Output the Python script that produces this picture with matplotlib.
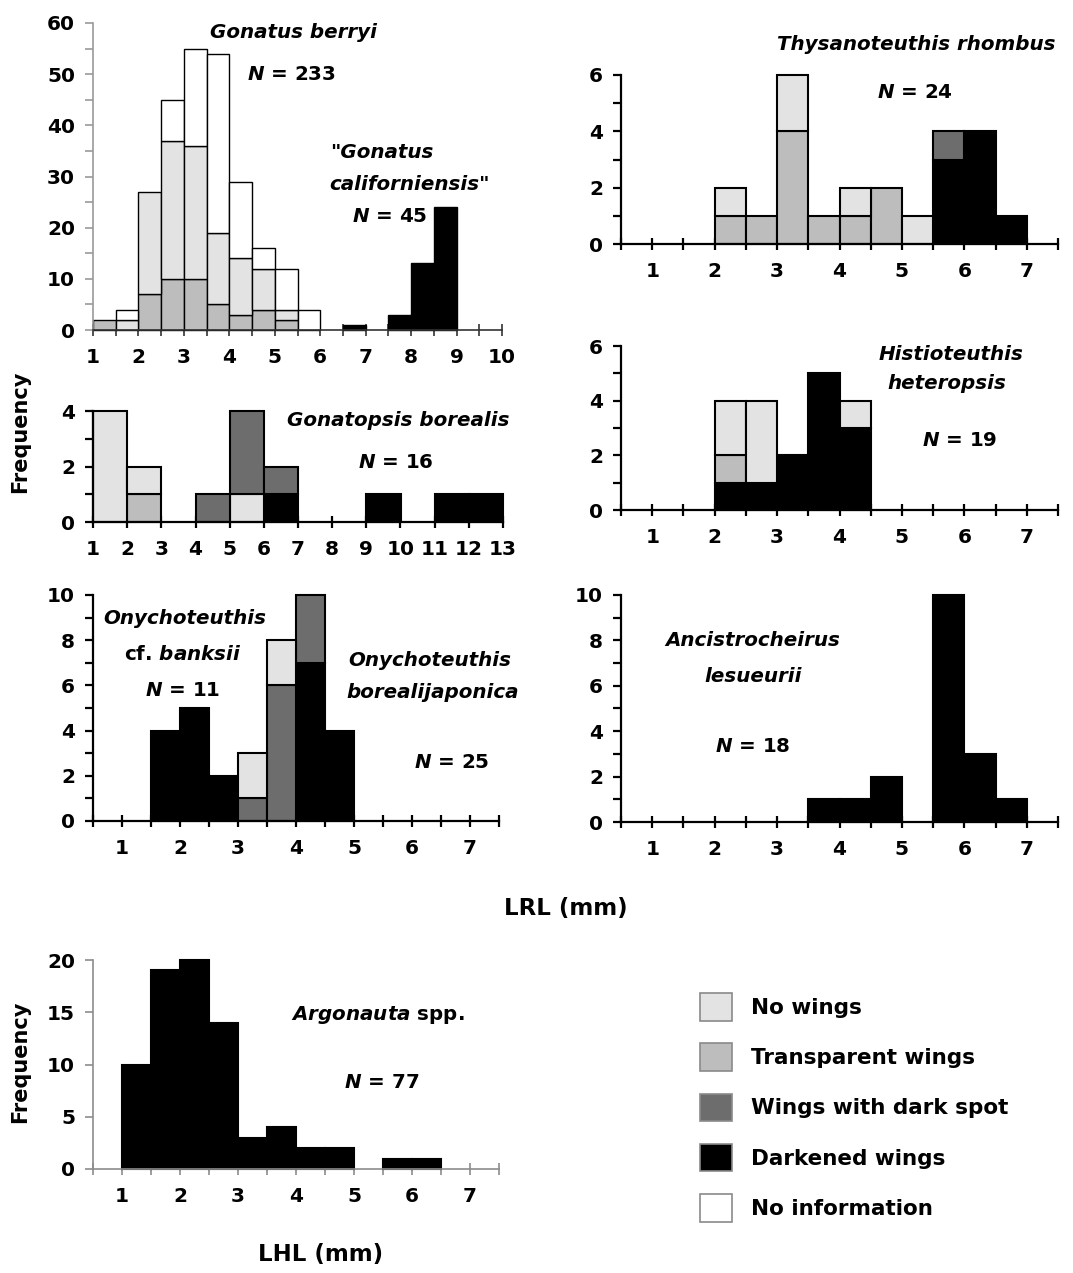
import numpy as np
import matplotlib
matplotlib.use('Agg')
import matplotlib.pyplot as plt
from matplotlib.ticker import MultipleLocator
from matplotlib.patches import Patch

plt.rcParams['font.family'] = ['DejaVu Sans']
plt.rcParams['font.weight'] = 'bold'
plt.rcParams['mathtext.fontset'] = 'custom'
plt.rcParams['mathtext.it'] = 'DejaVu Sans:italic:bold'
plt.rcParams['mathtext.rm'] = 'DejaVu Sans:bold'

# wing categories (legend order)
categories = ['No wings', 'Transparent wings', 'Wings with dark spot', 'Darkened wings', 'No information']
colours = ['#e3e3e3', '#bdbdbd', '#6d6d6d', '#000000', '#ffffff']
col = dict(zip(categories, colours))

# Gonatus berryi, LRL bins of 0.5 mm
berryi_bins = [1.0, 1.5, 2.0, 2.5, 3.0, 3.5, 4.0, 4.5, 5.0, 5.5]
berryi_trans = [2, 0, 7, 10, 10, 5, 3, 4, 2, 0]
berryi_nowings = [0, 2, 20, 27, 26, 14, 11, 8, 2, 0]
berryi_noinfo = [0, 2, 0, 8, 19, 35, 15, 4, 8, 4]
# "Gonatus californiensis"
calif_bins = [6.5, 7.5, 8.0, 8.5]
calif_dark = [1, 3, 13, 24]

# Thysanoteuthis rhombus
thys_bins = [2.0, 2.5, 3.0, 3.5, 4.0, 4.5, 5.0, 5.5, 6.0, 6.5]
thys_dark = [0, 0, 0, 0, 0, 0, 0, 3, 4, 1]
thys_spot = [0, 0, 0, 0, 0, 0, 0, 1, 0, 0]
thys_trans = [1, 1, 4, 1, 1, 2, 0, 0, 0, 0]
thys_nowings = [1, 0, 2, 0, 1, 0, 1, 0, 0, 0]

# Gonatopsis borealis, bins of 1 mm
gona_bins = [1, 2, 3, 4, 5, 6, 7, 8, 9, 10, 11, 12]
gona_dark = [0, 0, 0, 0, 0, 1, 0, 0, 1, 0, 1, 1]
gona_trans = [0, 1, 0, 0, 0, 0, 0, 0, 0, 0, 0, 0]
gona_nowings = [4, 1, 0, 0, 1, 0, 0, 0, 0, 0, 0, 0]
gona_spot = [0, 0, 0, 1, 3, 1, 0, 0, 0, 0, 0, 0]

# Histioteuthis heteropsis
hist_bins = [2.0, 2.5, 3.0, 3.5, 4.0]
hist_dark = [1, 1, 2, 5, 3]
hist_trans = [1, 0, 0, 0, 0]
hist_nowings = [2, 3, 0, 0, 1]

# Onychoteuthis cf. banksii / borealijaponica
banksii_bins = [1.5, 2.0, 2.5]
banksii_dark = [4, 5, 2]
borjap_bins = [3.0, 3.5, 4.0, 4.5]
borjap_dark = [0, 0, 7, 4]
borjap_spot = [1, 6, 3, 0]
borjap_nowings = [2, 2, 0, 0]

# Ancistrocheirus lesueurii
anc_bins = [3.5, 4.0, 4.5, 5.0, 5.5, 6.0, 6.5]
anc_dark = [1, 1, 2, 0, 10, 3, 1]

# Argonauta spp., LHL
arg_bins = [1.0, 1.5, 2.0, 2.5, 3.0, 3.5, 4.0, 4.5, 5.0, 5.5, 6.0]
arg_dark = [10, 19, 20, 14, 3, 4, 2, 2, 0, 1, 1]

W, H = 1073, 1273
fig = plt.figure(figsize=(W / 100, H / 100), dpi=100)


def px_axes(left, right, top, bottom):
    return fig.add_axes([left / W, 1 - bottom / H, (right - left) / W, (bottom - top) / H])


def stack(ax, bins, layers, width=0.5, lw=1.5):
    bins = np.array(bins, float)
    bottom = np.zeros(len(bins))
    for cat, vals in layers:
        vals = np.array(vals, float)
        m = vals > 0
        ax.bar(bins[m], vals[m], width=width, bottom=bottom[m], align='edge',
               color=col[cat], edgecolor='black', linewidth=lw, clip_on=False, zorder=2)
        bottom += vals


def setup(ax, xlim, ylim, ymajor, yminor, xmajor=1, xminor=0.5, spine='black', lw=1.6):
    ax.set_xlim(xlim)
    ax.set_ylim(ylim)
    for s in ['top', 'right']:
        ax.spines[s].set_visible(False)
    for s in ['left', 'bottom']:
        ax.spines[s].set_color(spine)
        ax.spines[s].set_linewidth(lw)
    ax.xaxis.set_major_locator(MultipleLocator(xmajor))
    ax.xaxis.set_minor_locator(MultipleLocator(xminor))
    ax.yaxis.set_major_locator(MultipleLocator(ymajor))
    ax.yaxis.set_minor_locator(MultipleLocator(yminor))
    ax.tick_params(axis='x', which='both', direction='inout', length=8, width=lw,
                   color=spine, labelsize=14.5, pad=9)
    ax.tick_params(axis='y', which='both', direction='out', length=6, width=lw,
                   color=spine, labelsize=14.5, pad=7)
    ax.set_xticks([t for t in ax.get_xticks() if xlim[0] <= t <= xlim[1] and t >= 1])
    ax.patch.set_alpha(0)


# panel 1: Gonatus berryi + californiensis
ax1 = px_axes(93, 502, 23, 330)
stack(ax1, berryi_bins, [('Transparent wings', berryi_trans), ('No wings', berryi_nowings),
                         ('No information', berryi_noinfo)], lw=1.0)
stack(ax1, calif_bins, [('Darkened wings', calif_dark)], lw=1.0)
setup(ax1, (1, 10), (0, 60), 10, 5, spine='#9a9a9a', lw=1.2)
ax1.spines['bottom'].set_color('#333333')
ax1.tick_params(axis='x', which='both', color='#333333')

# panel 2: Thysanoteuthis rhombus
ax2 = px_axes(621, 1058, 75, 244)
stack(ax2, thys_bins, [('Darkened wings', thys_dark), ('Wings with dark spot', thys_spot),
                       ('Transparent wings', thys_trans), ('No wings', thys_nowings)])
setup(ax2, (0.5, 7.5), (0, 6), 2, 1)

# panel 3: Gonatopsis borealis
ax3 = px_axes(93, 503, 411, 522)
stack(ax3, gona_bins, [('Darkened wings', gona_dark), ('Transparent wings', gona_trans),
                       ('No wings', gona_nowings), ('Wings with dark spot', gona_spot)], width=1.0)
setup(ax3, (1, 13), (0, 4), 2, 1, xmajor=1, xminor=1)

# panel 4: Histioteuthis heteropsis
ax4 = px_axes(621, 1058, 346, 510)
stack(ax4, hist_bins, [('Darkened wings', hist_dark), ('Transparent wings', hist_trans),
                       ('No wings', hist_nowings)])
setup(ax4, (0.5, 7.5), (0, 6), 2, 1)

# panel 5: Onychoteuthis
ax5 = px_axes(93, 499, 595, 821)
stack(ax5, banksii_bins, [('Darkened wings', banksii_dark)])
stack(ax5, borjap_bins, [('Darkened wings', borjap_dark), ('Wings with dark spot', borjap_spot),
                         ('No wings', borjap_nowings)])
setup(ax5, (0.5, 7.5), (0, 10), 2, 1)

# panel 6: Ancistrocheirus lesueurii
ax6 = px_axes(621, 1058, 595, 822)
stack(ax6, anc_bins, [('Darkened wings', anc_dark)])
setup(ax6, (0.5, 7.5), (0, 10), 2, 1)

# panel 7: Argonauta spp.
ax7 = px_axes(93, 499, 960, 1169)
stack(ax7, arg_bins, [('Darkened wings', arg_dark)])
setup(ax7, (0.5, 7.5), (0, 20), 5, 5, spine='#8c8c8c', lw=1.2)


def label(x, y, s, italic=False, size=14.3):
    fig.text(x / W, 1 - y / H, s, ha='center', va='center', fontsize=size,
             fontweight='bold', style='italic' if italic else 'normal')


label(294, 32, 'Gonatus berryi', True)
label(292, 75, r'$N$ = 233')
label(382, 153, '"Gonatus', True)
label(410, 184, 'californiensis"', True)
label(390, 217, r'$N$ = 45')
label(916, 45, 'Thysanoteuthis rhombus', True)
label(915, 92, r'$N$ = 24')
label(398, 420, 'Gonatopsis borealis', True)
label(396, 463, r'$N$ = 16')
label(951, 355, 'Histioteuthis', True)
label(947, 383, 'heteropsis', True)
label(960, 440, r'$N$ = 19')
label(185, 618, 'Onychoteuthis', True)
label(183, 655, r'cf. $banksii$')
label(183, 690, r'$N$ = 11')
label(430, 660, 'Onychoteuthis', True)
label(433, 693, 'borealijaponica', True)
label(452, 763, r'$N$ = 25')
label(753, 640, 'Ancistrocheirus', True)
label(753, 677, 'lesueurii', True)
label(753, 747, r'$N$ = 18')
label(378, 1015, r'$Argonauta$ spp.')
label(382, 1083, r'$N$ = 77')

fig.text(20 / W, 1 - 432 / H, 'Frequency', rotation=90, ha='center', va='center', fontsize=15)
fig.text(20 / W, 1 - 1062 / H, 'Frequency', rotation=90, ha='center', va='center', fontsize=15)
fig.text(566 / W, 1 - 908 / H, 'LRL (mm)', ha='center', va='center', fontsize=16.5)
fig.text(321 / W, 1 - 1255 / H, 'LHL (mm)', ha='center', va='center', fontsize=16.5)

handles = [Patch(facecolor=c, edgecolor='#8a8a8a', linewidth=1.2) for c in colours]
fig.legend(handles, categories, loc='upper left', bbox_to_anchor=(700 / W, 1 - 993 / H),
           frameon=False, fontsize=15.5, handlelength=1.5, handleheight=1.6,
           labelspacing=1.05, handletextpad=0.85, borderpad=0, borderaxespad=0)

fig.savefig('out.png', dpi=100)
